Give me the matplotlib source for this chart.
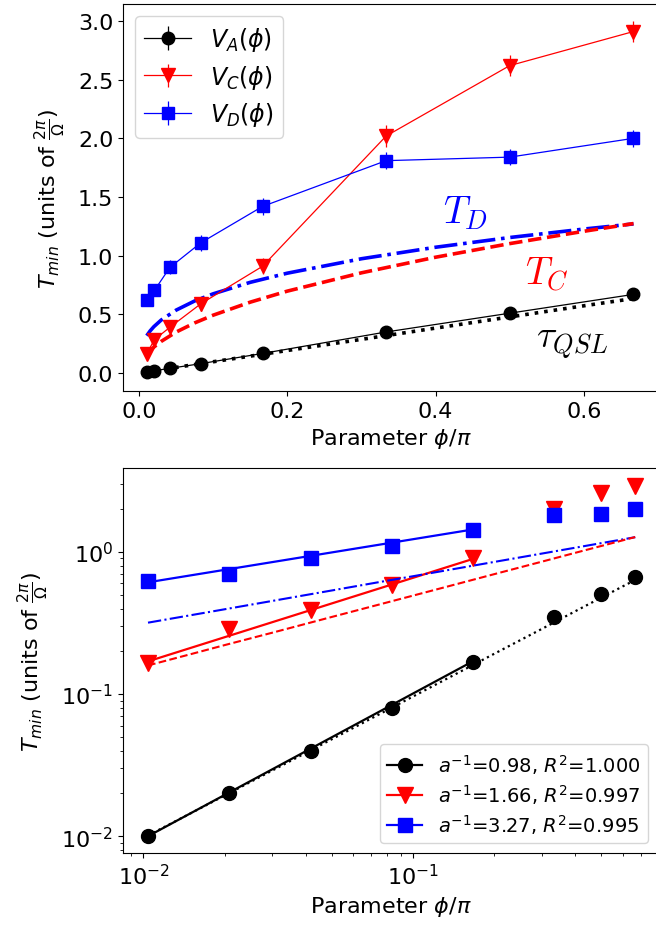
import matplotlib
matplotlib.use("Agg")
import matplotlib.pyplot as plt
from matplotlib.lines import Line2D

# parameter phi/pi
phi = [1 / 96, 1 / 48, 1 / 24, 1 / 12, 1 / 6, 1 / 3, 1 / 2, 2 / 3]

# measured minimal times
v_a = [0.010, 0.020, 0.040, 0.080, 0.167, 0.35, 0.51, 0.67]
v_c = [0.165, 0.285, 0.39, 0.59, 0.91, 2.02, 2.62, 2.91]
v_d = [0.62, 0.705, 0.90, 1.11, 1.42, 1.81, 1.84, 2.00]
err_a = [0.005, 0.005, 0.006, 0.008, 0.01, 0.015, 0.02, 0.02]
err_c = [0.03, 0.04, 0.05, 0.06, 0.07, 0.09, 0.09, 0.09]
err_d = [0.05, 0.05, 0.06, 0.07, 0.07, 0.07, 0.07, 0.07]

# theory curves
phi_th = [0.0104, 0.015, 0.02, 0.03, 0.05, 0.075, 0.1, 0.15, 0.2, 0.3, 0.4, 0.5, 0.6, 0.667]
t_c = [0.159, 0.191, 0.221, 0.270, 0.349, 0.427, 0.493, 0.604, 0.698, 0.854, 0.987, 1.103, 1.208, 1.274]
t_d = [0.318, 0.359, 0.395, 0.452, 0.536, 0.614, 0.675, 0.773, 0.851, 0.974, 1.072, 1.155, 1.227, 1.271]
tau_qsl = [0.0101, 0.0145, 0.0193, 0.0289, 0.0481, 0.0721, 0.0961, 0.144, 0.192, 0.287, 0.383, 0.478, 0.573, 0.635]

# power-law fits over the first five points (end values)
fit_x = [1 / 96, 1 / 6]
fit_a = [0.0100, 0.170]
fit_c = [0.170, 0.893]
fit_d = [0.612, 1.44]
fit_labels = [r"$a^{-1}$=0.98, $R^2$=1.000",
              r"$a^{-1}$=1.66, $R^2$=0.997",
              r"$a^{-1}$=3.27, $R^2$=0.995"]

YLABEL = r"$T_{min}$ (units of $\frac{2\pi}{\Omega}$)"
XLABEL = r"Parameter $\phi/\pi$"

fig = plt.figure(figsize=(6.56, 9.28), dpi=100)
ax1 = fig.add_axes([0.1875, 0.5776, 0.8155, 0.417])
ax2 = fig.add_axes([0.1875, 0.0797, 0.8155, 0.4149])

# top: linear axes
ax1.errorbar(phi, v_a, yerr=err_a, color="black", marker="o", ms=9, lw=0.9, label=r"$V_A(\phi)$")
ax1.errorbar(phi, v_c, yerr=err_c, color="red", marker="v", ms=10, lw=0.9, label=r"$V_C(\phi)$")
ax1.errorbar(phi, v_d, yerr=err_d, color="blue", marker="s", ms=9, lw=0.9, label=r"$V_D(\phi)$")
ax1.plot(phi_th, t_d, color="blue", ls="-.", lw=2.6)
ax1.plot(phi_th, t_c, color="red", ls="--", lw=2.6)
ax1.plot(phi_th, tau_qsl, color="black", ls=":", lw=2.6)
ax1.text(0.44, 1.37, r"$T_D$", color="blue", fontsize=27, ha="center", va="center", math_fontfamily="cm")
ax1.text(0.55, 0.845, r"$T_C$", color="red", fontsize=27, ha="center", va="center", math_fontfamily="cm")
ax1.text(0.584, 0.265, r"$\tau_{QSL}$", color="black", fontsize=27, ha="center", va="center", math_fontfamily="cm")
ax1.set_xlim(-0.0216, 0.70)
ax1.set_ylim(-0.153, 3.145)
ax1.set_yticks([0.0, 0.5, 1.0, 1.5, 2.0, 2.5, 3.0])
ax1.set_xticks([0.0, 0.2, 0.4, 0.6])
ax1.tick_params(labelsize=16)
ax1.set_xlabel(XLABEL, fontsize=16)
ax1.set_ylabel(YLABEL, fontsize=16, labelpad=8)
ax1.legend(loc="upper left", fontsize=17, labelspacing=0.4)

# bottom: log-log axes
ax2.plot(phi, v_a, "o", color="black", ms=10)
ax2.plot(phi, v_c, "v", color="red", ms=11)
ax2.plot(phi, v_d, "s", color="blue", ms=10)
ax2.plot(fit_x, fit_a, color="black", lw=1.6)
ax2.plot(fit_x, fit_c, color="red", lw=1.6)
ax2.plot(fit_x, fit_d, color="blue", lw=1.6)
ax2.plot(phi_th, t_d, color="blue", ls="-.", lw=1.5)
ax2.plot(phi_th, t_c, color="red", ls="--", lw=1.5)
ax2.plot(phi_th, tau_qsl, color="black", ls=":", lw=1.6)
ax2.set_xscale("log")
ax2.set_yscale("log")
ax2.set_xlim(0.0084, 0.81)
ax2.set_ylim(0.0076, 3.9)
ax2.tick_params(labelsize=16)
ax2.set_xlabel(XLABEL, fontsize=16)
ax2.set_ylabel(YLABEL, fontsize=16, labelpad=8)
handles = [
    Line2D([], [], color="black", marker="o", ms=10, lw=1.6),
    Line2D([], [], color="red", marker="v", ms=11, lw=1.6),
    Line2D([], [], color="blue", marker="s", ms=10, lw=1.6),
]
ax2.legend(handles, fit_labels, loc="lower right", fontsize=14, handlelength=1.8, labelspacing=0.3)

fig.savefig("out.png", dpi=100)
